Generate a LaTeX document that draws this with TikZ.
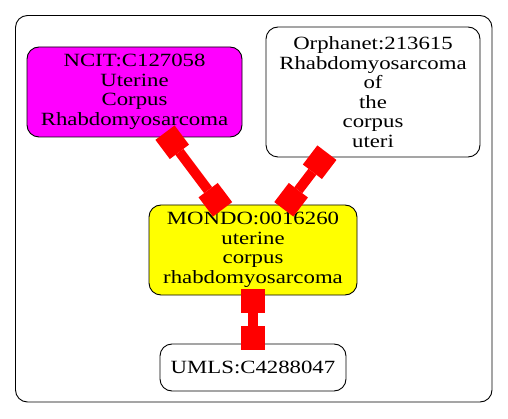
\documentclass[tikz,border=0pt]{standalone}
\usepackage{fontspec}
\newfontfamily\gvfont[FakeStretch=1.22]{Liberation Serif}
\usetikzlibrary{arrows.meta}
\definecolor{ncitpink}{RGB}{255, 0, 255}
\definecolor{mondoyellow}{RGB}{255, 255, 0}
\definecolor{linkred}{RGB}{255, 0, 0}

\begin{document}
\begin{tikzpicture}[
  x=1pt, y=-1pt,
  termbox/.style = {rectangle, rounded corners=12pt, draw=black, line width=0.9pt,
                    align=center, inner sep=0pt,
                    font={\gvfont\fontsize{18.67}{19.5}\selectfont}},
  clusterbox/.style = {draw=black, line width=0.9pt, rounded corners=12pt},
  boxtip/.style = {Square[length=24pt, width=24pt, line width=0pt]},
  link/.style = {{Square[length=24pt, width=24pt, line width=0pt]}-{Square[length=24pt, width=24pt, line width=0pt]},
                 line width=10pt, linkred, shorten <=-6pt, shorten >=-6pt}
]
\useasboundingbox (0,0) rectangle (508,419);
% cluster frame
\draw[clusterbox] (15.5,15.5) rectangle (492,402);
% terms
\node[termbox, fill=ncitpink, minimum width=215pt, minimum height=90pt] (ncit) at (134.5,92)
  {NCIT:C127058\\Uterine\\Corpus\\Rhabdomyosarcoma};
\node[termbox, fill=white, minimum width=214pt, minimum height=130pt] (orpha) at (373,92)
  {Orphanet:213615\\Rhabdomyosarcoma\\of\\the\\corpus\\uteri};
\node[termbox, fill=mondoyellow, minimum width=208pt, minimum height=90pt] (mondo) at (253,250)
  {MONDO:0016260\\uterine\\corpus\\rhabdomyosarcoma};
\node[termbox, fill=white, minimum width=186pt, minimum height=47pt] (umls) at (253,367.5)
  {UMLS:C4288047};
% links
\draw[link] (ncit) -- (mondo);
\draw[link] (orpha) -- (mondo);
\draw[link] (mondo) -- (umls);
\end{tikzpicture}
\end{document}
